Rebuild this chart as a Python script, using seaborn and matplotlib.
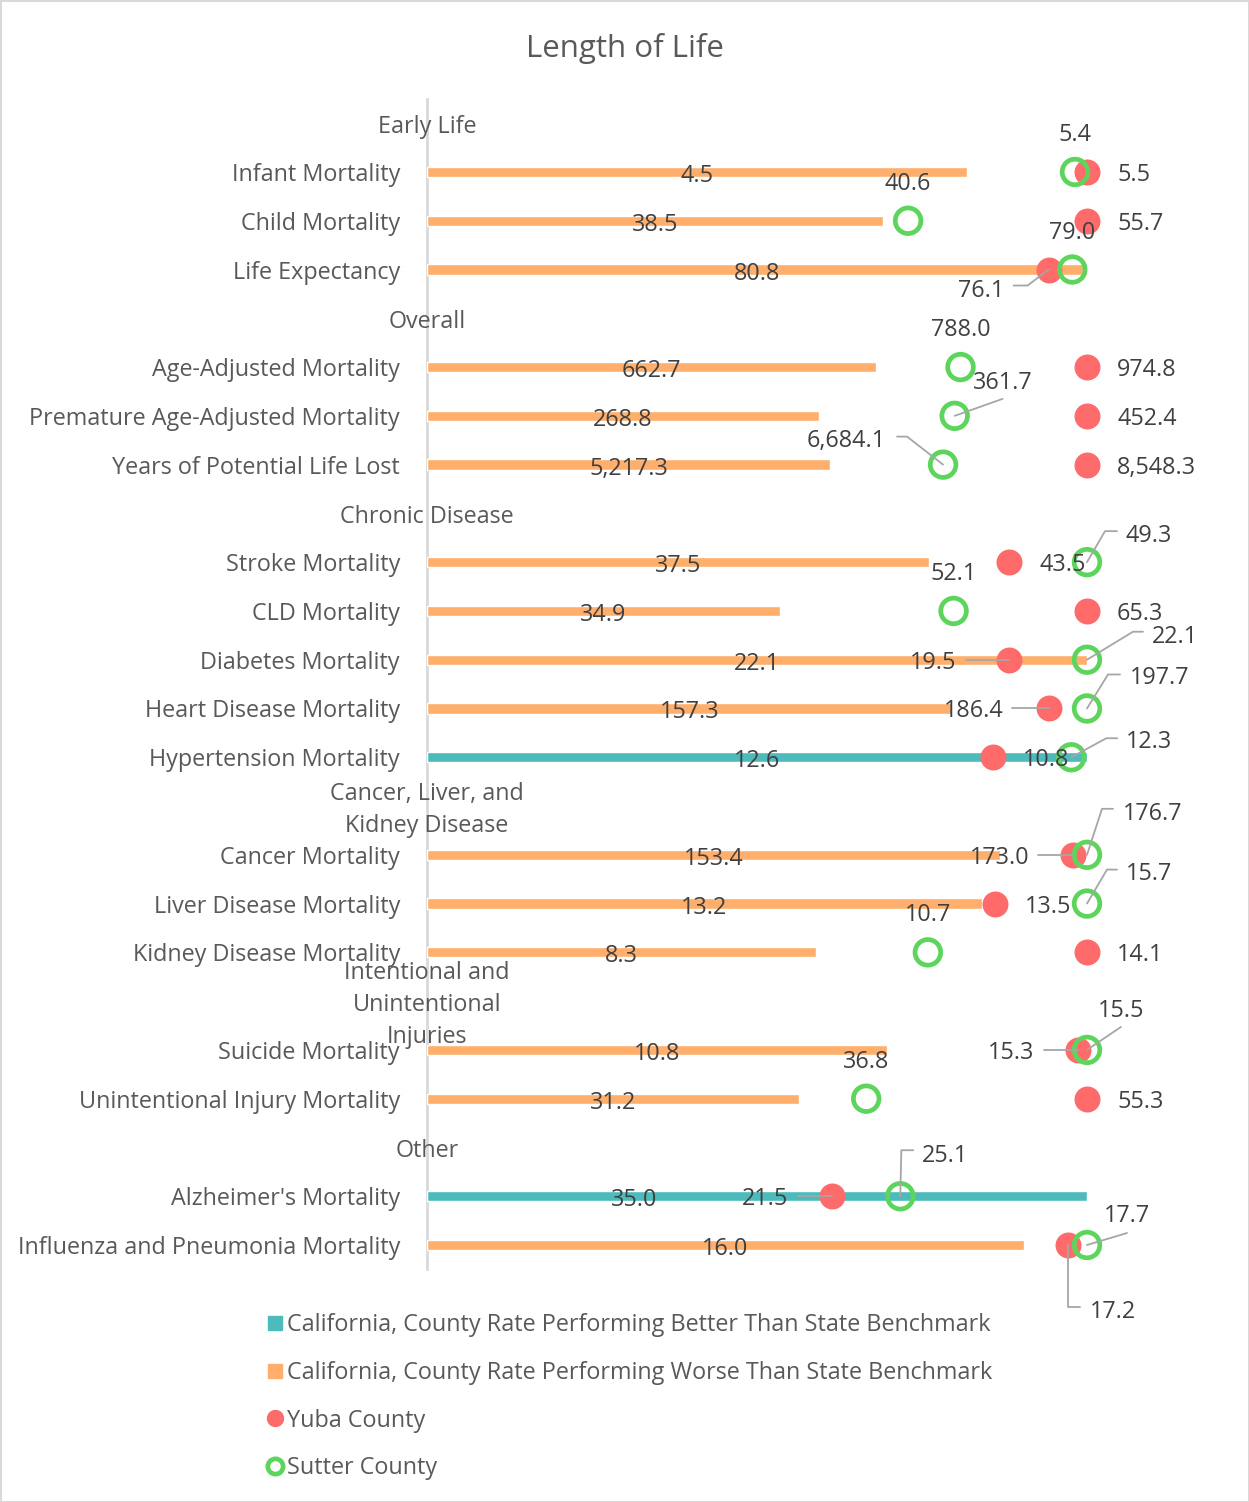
import numpy as np
import pandas as pd
import matplotlib
matplotlib.use("Agg")
import matplotlib.pyplot as plt
from matplotlib.lines import Line2D
from matplotlib.transforms import IdentityTransform
import seaborn as sns

# groups and measures as they run down the chart
groups = ["Early Life", "Overall", "Chronic Disease",
          "Cancer, Liver, and\nKidney Disease",
          "Intentional and\nUnintentional\nInjuries", "Other"]
measures = ["Infant Mortality", "Child Mortality", "Life Expectancy",
            "Age-Adjusted Mortality", "Premature Age-Adjusted Mortality",
            "Years of Potential Life Lost",
            "Stroke Mortality", "CLD Mortality", "Diabetes Mortality",
            "Heart Disease Mortality", "Hypertension Mortality",
            "Cancer Mortality", "Liver Disease Mortality", "Kidney Disease Mortality",
            "Suicide Mortality", "Unintentional Injury Mortality",
            "Alzheimer's Mortality", "Influenza and Pneumonia Mortality"]
group_of = [0, 0, 0, 1, 1, 1, 2, 2, 2, 2, 2, 3, 3, 3, 4, 4, 5, 5]

california = [4.5, 38.5, 80.8, 662.7, 268.8, 5217.3, 37.5, 34.9, 22.1, 157.3,
              12.6, 153.4, 13.2, 8.3, 10.8, 31.2, 35.0, 16.0]
yuba = [5.5, 55.7, 76.1, 974.8, 452.4, 8548.3, 43.5, 65.3, 19.5, 186.4,
        10.8, 173.0, 13.5, 14.1, 15.3, 55.3, 21.5, 17.2]
sutter = [5.4, 40.6, 79.0, 788.0, 361.7, 6684.1, 49.3, 52.1, 22.1, 197.7,
          12.3, 176.7, 15.7, 10.7, 15.5, 36.8, 25.1, 17.7]
better = ["Hypertension Mortality", "Alzheimer's Mortality"]

BETTER = "California, County Rate Performing Better Than State Benchmark"
WORSE = "California, County Rate Performing Worse Than State Benchmark"

TEAL = "#4DBBBB"
ORANGE = "#FFAE6B"
RED = "#FF6B6B"
GREEN = "#5DD55D"
LABEL_C = "#595959"
VALUE_C = "#404040"
LEADER_C = "#A6A6A6"

# slot positions: a header slot before each group
slots, header_slots = [], []
pos = 0
for gi in range(len(groups)):
    header_slots.append(pos)
    pos += 1
    for mi, g in enumerate(group_of):
        if g == gi:
            slots.append(pos)
            pos += 1

df = pd.DataFrame({"measure": measures, "slot": slots,
                   "california": california, "yuba": yuba, "sutter": sutter})
row_max = df[["california", "yuba", "sutter"]].max(axis=1)
df["ca_n"] = df["california"] / row_max
df["yuba_n"] = df["yuba"] / row_max
df["sutter_n"] = df["sutter"] / row_max
df["status"] = np.where(df["measure"].isin(better), BETTER, WORSE)

# label placement (pixels, y down): dx, dy, ha, leader vertices
yuba_lbl = {
    "Life Expectancy": (-44, 18, "right", [(-21, 16), (-35, 16)]),
    "Diabetes Mortality": (-53, 0, "right", [(-43, 0)]),
    "Heart Disease Mortality": (-46, 0, "right", [(-37, 0)]),
    "Cancer Mortality": (-44, 0, "right", [(-35, 0)]),
    "Suicide Mortality": (-44, 0, "right", [(-34, 0)]),
    "Alzheimer's Mortality": (-44, 0, "right", [(-34, 0)]),
    "Influenza and Pneumonia Mortality": (22, 64, "left", [(0, 62), (12, 62)]),
}
sutter_lbl = {
    "Premature Age-Adjusted Mortality": (18, -36, "left", [(48, -17)]),
    "Years of Potential Life Lost": (-57, -27, "right", [(-36, -28), (-46, -28)]),
    "Stroke Mortality": (38, -29, "left", [(18, -31), (30, -31)]),
    "Diabetes Mortality": (65, -26, "left", [(46, -28), (56, -28)]),
    "Heart Disease Mortality": (43, -33, "left", [(21, -34), (33, -34)]),
    "Hypertension Mortality": (55, -18, "left", [(35, -19), (46, -19)]),
    "Cancer Mortality": (36, -44, "left", [(15, -46), (26, -46)]),
    "Liver Disease Mortality": (39, -33, "left", [(20, -34), (30, -34)]),
    "Suicide Mortality": (11, -42, "left", [(34, -23)]),
    "Alzheimer's Mortality": (22, -43, "left", [(1, -46), (13, -46)]),
    "Influenza and Pneumonia Mortality": (17, -32, "left", [(40, -12)]),
}
ca_dx = {"Alzheimer's Mortality": -123}
TXT_DY = 3  # visual centring nudge for text (pixels down)

sns.set_theme(style="white")
plt.rcParams["font.family"] = ["Open Sans", "DejaVu Sans"]
FS = 16.8

W, H = 1249, 1502
fig = plt.figure(figsize=(W / 100, H / 100), dpi=100)
fig.patch.set_edgecolor("#D9D9D9")
fig.patch.set_linewidth(2)

ax_left, ax_right, ax_top, ax_bot = 427, 1230, 98.8, 1269.4
ax = fig.add_axes([ax_left / W, 1 - ax_bot / H, (ax_right - ax_left) / W, (ax_bot - ax_top) / H])

sns.barplot(data=df, x="ca_n", y="slot", hue="status", orient="h", native_scale=True,
            dodge=False, width=0.21, palette={BETTER: TEAL, WORSE: ORANGE},
            saturation=1, legend=False, ax=ax, zorder=2)
sns.scatterplot(x=df["yuba_n"], y=df["slot"], color=RED, s=350, linewidth=0,
                ax=ax, zorder=3)
sns.scatterplot(x=df["sutter_n"], y=df["slot"], s=340, ax=ax, zorder=4)
ring = ax.collections[-1]
ring.set_facecolor("none")
ring.set_edgecolor(GREEN)
ring.set_linewidth(3.4)

ax.set_xlim(0, (ax_right - ax_left) / 660)
ax.set_ylim(pos - 0.5, -0.5)
ax.set_yticks(slots)
ax.set_yticklabels(measures, fontsize=FS, color=LABEL_C)
ax.set_xticks([])
ax.set_xlabel("")
ax.set_ylabel("")
ax.tick_params(axis="y", length=0, pad=19.5)
for s in ["top", "right", "bottom"]:
    ax.spines[s].set_visible(False)
ax.spines["left"].set_color("#D9D9D9")
ax.spines["left"].set_linewidth(2)
ax.spines["left"].set_zorder(1)

for hs, g in zip(header_slots, groups):
    ax.annotate(g, (0, hs), xytext=(0, -TXT_DY - 1), textcoords="offset pixels",
                ha="center", va="center", fontsize=FS, color=LABEL_C,
                linespacing=1.45, zorder=6)


def fmt(v):
    return f"{v:,.1f}"


def place(x, y, text, spec):
    dx, dy, ha, leader = spec
    ax.annotate(text, (x, y), xytext=(dx, -dy - TXT_DY), textcoords="offset pixels",
                ha=ha, va="center", fontsize=FS, color=VALUE_C, zorder=7,
                annotation_clip=False)
    if leader:
        px, py = ax.transData.transform((x, y))
        xs = [px] + [px + vx for vx, vy in leader]
        ys = [py] + [py - vy for vx, vy in leader]
        fig.add_artist(Line2D(xs, ys, transform=IdentityTransform(), color=LEADER_C,
                              lw=1.3, zorder=8))


for _, r in df.iterrows():
    ax.annotate(fmt(r["california"]), (r["ca_n"] / 2, r["slot"]),
                xytext=(ca_dx.get(r["measure"], 0), -1 - TXT_DY), textcoords="offset pixels",
                ha="center", va="center", fontsize=FS, color=VALUE_C, zorder=7)
    place(r["yuba_n"], r["slot"], fmt(r["yuba"]),
          yuba_lbl.get(r["measure"], (30, 0, "left", None)))
    place(r["sutter_n"], r["slot"], fmt(r["sutter"]),
          sutter_lbl.get(r["measure"], (0, -40, "center", None)))

fig.text(0.5, 1 - 48 / H, "Length of Life", ha="center", va="center",
         fontsize=22.5, color=LABEL_C)

handles = [
    Line2D([], [], marker="s", ls="none", ms=10.5, color=TEAL),
    Line2D([], [], marker="s", ls="none", ms=10.5, color=ORANGE),
    Line2D([], [], marker="o", ls="none", ms=11.5, color=RED),
    Line2D([], [], marker="o", ls="none", ms=11, mfc="white", mec=GREEN, mew=3.4),
]
labels = [BETTER, WORSE, "Yuba County", "Sutter County"]
fig.legend(handles, labels, loc="upper left", bbox_to_anchor=(266 / W, 1 - 1313 / H),
           frameon=False, fontsize=FS, labelcolor=LABEL_C, handlelength=0.8,
           handletextpad=0.12, labelspacing=1.02, borderpad=0, borderaxespad=0)

fig.savefig("out.png", dpi=100)
